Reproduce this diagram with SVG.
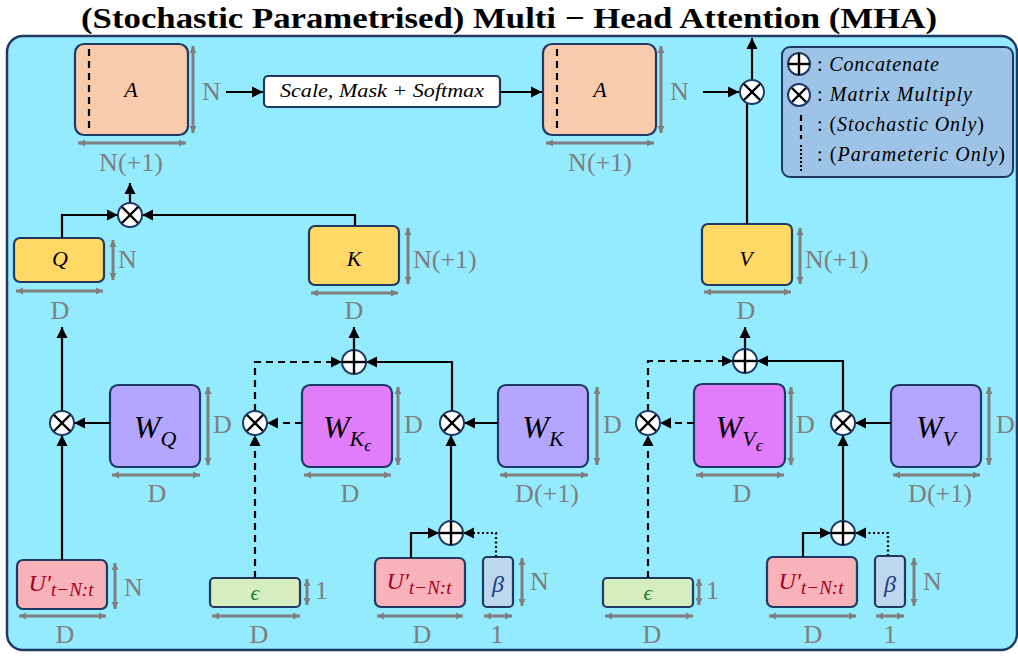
<svg xmlns="http://www.w3.org/2000/svg" width="1018" height="656" viewBox="0 0 1018 656">
<defs>
<marker id="ah" markerUnits="userSpaceOnUse" markerWidth="12" markerHeight="12" refX="11" refY="6" orient="auto"><path d="M0,0.5 L11,6 L0,11.5 z" fill="#000"/></marker>
<marker id="dh" markerUnits="userSpaceOnUse" markerWidth="8" markerHeight="8" refX="7" refY="4" orient="auto-start-reverse"><path d="M0,0.5 L7,4 L0,7.5 z" fill="#7F7F7F"/></marker>
</defs>
<style>
.panel{fill:#93EBFD;stroke:#1F3864;stroke-width:2.5}
.box{stroke:#1F3864;stroke-width:2.2}
.conn{fill:none;stroke:#000;stroke-width:2.2;marker-end:url(#ah)}
.dash{stroke-dasharray:7 5}
.dot{stroke-dasharray:2 2.5}
.dim{stroke:#7F7F7F;stroke-width:3;marker-start:url(#dh);marker-end:url(#dh)}
.dl{font-family:"Liberation Serif",serif;font-size:26px;fill:#7F7F7F}
.m{font-family:"Liberation Serif",serif;font-style:italic;fill:#000}
.op{fill:#fff;stroke:#1F3864;stroke-width:2}
.x{stroke:#000;stroke-width:2.4}
.lg{font-family:"Liberation Serif",serif;font-size:20px;fill:#000}
</style>
<text x="509" y="28" text-anchor="middle" font-family="Liberation Serif, serif" font-weight="bold" font-size="30" textLength="856" lengthAdjust="spacingAndGlyphs" fill="#000">(Stochastic Parametrised) Multi − Head Attention (MHA)</text>
<rect class="panel" x="7" y="36" width="1010" height="614" rx="16"/>

<g id="legend">
<rect x="782" y="47" width="231" height="130" rx="8" fill="#9DC3E6" stroke="#1F3864" stroke-width="2"/>
<circle class="op" cx="799" cy="64" r="11"/><line class="x" x1="788" y1="64" x2="810" y2="64"/><line class="x" x1="799" y1="53" x2="799" y2="75"/>
<text class="lg" x="817" y="71" textLength="122">: <tspan font-style="italic">Concatenate</tspan></text>
<circle class="op" cx="799" cy="95" r="11"/><line class="x" x1="792" y1="88" x2="806" y2="102"/><line class="x" x1="806" y1="88" x2="792" y2="102"/>
<text class="lg" x="817" y="101" textLength="155">: <tspan font-style="italic">Matrix Multiply</tspan></text>
<line x1="801" y1="115" x2="801" y2="139" stroke="#000" stroke-width="2.2" stroke-dasharray="6 4"/>
<text class="lg" x="817" y="131" textLength="167">: (<tspan font-style="italic">Stochastic Only</tspan>)</text>
<line x1="801" y1="145" x2="801" y2="171" stroke="#000" stroke-width="2" stroke-dasharray="2 2"/>
<text class="lg" x="817" y="161" textLength="188">: (<tspan font-style="italic">Parameteric Only</tspan>)</text>
</g>

<g id="A1">
<rect class="box" x="75" y="44" width="113" height="91" rx="9" fill="#F8CBAD"/>
<line x1="89" y1="49" x2="89" y2="131" stroke="#000" stroke-width="2.2" stroke-dasharray="7 5"/>
<text class="m" x="131" y="97" font-size="22" text-anchor="middle">A</text>
<line class="dim" x1="193" y1="46" x2="193" y2="133"/>
<text class="dl" x="202" y="100">N</text>
<line class="dim" x1="78" y1="143" x2="186" y2="143"/>
<text class="dl" x="131" y="171" text-anchor="middle">N(+1)</text>
</g>

<g id="scale">
<rect class="box" x="264" y="76" width="236" height="31" rx="4" fill="#fff"/>
<text class="m" x="382" y="97" font-size="19" text-anchor="middle" textLength="204" lengthAdjust="spacingAndGlyphs">Scale, Mask + Softmax</text>
</g>

<g id="A2">
<rect class="box" x="543" y="44" width="113" height="91" rx="9" fill="#F8CBAD"/>
<line x1="557" y1="49" x2="557" y2="131" stroke="#000" stroke-width="2.2" stroke-dasharray="7 5"/>
<text class="m" x="600" y="97" font-size="22" text-anchor="middle">A</text>
<line class="dim" x1="661" y1="46" x2="661" y2="133"/>
<text class="dl" x="670" y="100">N</text>
<line class="dim" x1="546" y1="143" x2="654" y2="143"/>
<text class="dl" x="600" y="171" text-anchor="middle">N(+1)</text>
</g>

<g id="Q">
<rect class="box" x="14" y="238" width="90" height="44" rx="6" fill="#FFD966"/>
<text class="m" x="60" y="266" font-size="22" text-anchor="middle">Q</text>
<line class="dim" x1="113" y1="240" x2="113" y2="280"/>
<text class="dl" x="118" y="268">N</text>
<line class="dim" x1="16" y1="291" x2="103" y2="291"/>
<text class="dl" x="60" y="319" text-anchor="middle">D</text>
</g>
<g id="K">
<rect class="box" x="309" y="226" width="90" height="59" rx="6" fill="#FFD966"/>
<text class="m" x="354" y="266" font-size="22" text-anchor="middle">K</text>
<line class="dim" x1="408" y1="228" x2="408" y2="284"/>
<text class="dl" x="413" y="268">N(+1)</text>
<line class="dim" x1="311" y1="293" x2="398" y2="293"/>
<text class="dl" x="354" y="319" text-anchor="middle">D</text>
</g>
<g id="V">
<rect class="box" x="702" y="224" width="90" height="61" rx="6" fill="#FFD966"/>
<text class="m" x="746" y="266" font-size="22" text-anchor="middle">V</text>
<line class="dim" x1="800" y1="228" x2="800" y2="284"/>
<text class="dl" x="805" y="268">N(+1)</text>
<line class="dim" x1="704" y1="292" x2="791" y2="292"/>
<text class="dl" x="746" y="319" text-anchor="middle">D</text>
</g>

<g id="WQ">
<rect class="box" x="110" y="385" width="90" height="82" rx="8" fill="#B4A6FE"/>
<text class="m" x="155" y="438" font-size="32" text-anchor="middle">W<tspan font-size="22" dy="8">Q</tspan></text>
<line class="dim" x1="208" y1="387" x2="208" y2="465"/>
<text class="dl" x="213" y="433">D</text>
<line class="dim" x1="112" y1="475" x2="200" y2="475"/>
<text class="dl" x="157" y="502" text-anchor="middle">D</text>
</g>
<g id="WKe">
<rect class="box" x="302" y="385" width="90" height="82" rx="8" fill="#E17CFB"/>
<text class="m" x="347" y="438" font-size="32" text-anchor="middle">W<tspan font-size="22" dy="8">K</tspan><tspan font-size="17" dy="5">ϵ</tspan></text>
<line class="dim" x1="398" y1="387" x2="398" y2="465"/>
<text class="dl" x="404" y="433">D</text>
<line class="dim" x1="304" y1="475" x2="391" y2="475"/>
<text class="dl" x="350" y="502" text-anchor="middle">D</text>
</g>
<g id="WK">
<rect class="box" x="498" y="385" width="90" height="82" rx="8" fill="#B4A6FE"/>
<text class="m" x="543" y="438" font-size="32" text-anchor="middle">W<tspan font-size="22" dy="8">K</tspan></text>
<line class="dim" x1="597" y1="387" x2="597" y2="465"/>
<text class="dl" x="603" y="433">D</text>
<line class="dim" x1="500" y1="475" x2="588" y2="475"/>
<text class="dl" x="547" y="502" text-anchor="middle">D(+1)</text>
</g>
<g id="WVe">
<rect class="box" x="694" y="384" width="91" height="83" rx="8" fill="#E17CFB"/>
<text class="m" x="739" y="438" font-size="32" text-anchor="middle">W<tspan font-size="22" dy="8">V</tspan><tspan font-size="17" dy="5">ϵ</tspan></text>
<line class="dim" x1="791" y1="387" x2="791" y2="465"/>
<text class="dl" x="796" y="433">D</text>
<line class="dim" x1="696" y1="475" x2="784" y2="475"/>
<text class="dl" x="742" y="502" text-anchor="middle">D</text>
</g>
<g id="WV">
<rect class="box" x="891" y="385" width="90" height="82" rx="8" fill="#B4A6FE"/>
<text class="m" x="936" y="438" font-size="32" text-anchor="middle">W<tspan font-size="22" dy="8">V</tspan></text>
<line class="dim" x1="989" y1="387" x2="989" y2="465"/>
<text class="dl" x="996" y="433">D</text>
<line class="dim" x1="893" y1="475" x2="980" y2="475"/>
<text class="dl" x="940" y="502" text-anchor="middle">D(+1)</text>
</g>

<g id="U1">
<rect class="box" x="17" y="560" width="90" height="49" rx="6" fill="#F7B2BA"/>
<text class="m" x="61" y="591" font-size="24" text-anchor="middle" style="fill:#A50021">U′<tspan font-size="19" dy="5">t−N:t</tspan></text>
<line class="dim" x1="115" y1="563" x2="115" y2="609"/>
<text class="dl" x="124" y="596">N</text>
<line class="dim" x1="19" y1="616" x2="106" y2="616"/>
<text class="dl" x="65" y="643" text-anchor="middle">D</text>
</g>
<g id="E1">
<rect class="box" x="210" y="578" width="90" height="29" rx="4" fill="#D6EDC0"/>
<text class="m" x="255" y="600" font-size="22" text-anchor="middle" style="fill:#1E7B34">ϵ</text>
<line class="dim" x1="307" y1="579" x2="307" y2="605"/>
<text class="dl" x="315" y="599">1</text>
<line class="dim" x1="212" y1="616" x2="300" y2="616"/>
<text class="dl" x="259" y="643" text-anchor="middle">D</text>
</g>
<g id="U2">
<rect class="box" x="375" y="558" width="90" height="49" rx="6" fill="#F7B2BA"/>
<text class="m" x="419" y="589" font-size="24" text-anchor="middle" style="fill:#A50021">U′<tspan font-size="19" dy="5">t−N:t</tspan></text>
<line class="dim" x1="377" y1="616" x2="463" y2="616"/>
<text class="dl" x="422" y="643" text-anchor="middle">D</text>
</g>
<g id="B1">
<rect class="box" x="483" y="557" width="30" height="50" rx="4" fill="#BDD7EE"/>
<text class="m" x="498" y="592" font-size="24" text-anchor="middle" style="fill:#1F3C88">β</text>
<line class="dim" x1="522" y1="558" x2="522" y2="606"/>
<text class="dl" x="530" y="590">N</text>
<line class="dim" x1="484" y1="616" x2="512" y2="616"/>
<text class="dl" x="497" y="643" text-anchor="middle">1</text>
</g>
<g id="E2">
<rect class="box" x="603" y="578" width="90" height="29" rx="4" fill="#D6EDC0"/>
<text class="m" x="648" y="600" font-size="22" text-anchor="middle" style="fill:#1E7B34">ϵ</text>
<line class="dim" x1="699" y1="579" x2="699" y2="605"/>
<text class="dl" x="706" y="599">1</text>
<line class="dim" x1="605" y1="616" x2="693" y2="616"/>
<text class="dl" x="652" y="643" text-anchor="middle">D</text>
</g>
<g id="U3">
<rect class="box" x="767" y="557" width="90" height="50" rx="6" fill="#F7B2BA"/>
<text class="m" x="811" y="589" font-size="24" text-anchor="middle" style="fill:#A50021">U′<tspan font-size="19" dy="5">t−N:t</tspan></text>
<line class="dim" x1="769" y1="616" x2="856" y2="616"/>
<text class="dl" x="813" y="643" text-anchor="middle">D</text>
</g>
<g id="B2">
<rect class="box" x="875" y="556" width="30" height="51" rx="4" fill="#BDD7EE"/>
<text class="m" x="890" y="592" font-size="24" text-anchor="middle" style="fill:#1F3C88">β</text>
<line class="dim" x1="914" y1="558" x2="914" y2="606"/>
<text class="dl" x="923" y="590">N</text>
<line class="dim" x1="876" y1="616" x2="904" y2="616"/>
<text class="dl" x="890" y="643" text-anchor="middle">1</text>
</g>

<g id="connectors">
<path class="conn" d="M226,92 H263"/>
<path class="conn" d="M500,92 H542"/>
<path class="conn" d="M703,92 H739"/>
<path d="M747,224 V103" fill="none" stroke="#000" stroke-width="2.2"/>
<path class="conn" d="M752,80 V38"/>
<path class="conn" d="M130,203 V183"/>
<path class="conn" d="M62,238 V215 H118"/>
<path class="conn" d="M355,226 V215 H142"/>
<path class="conn" d="M62,411 V327"/>
<path class="conn" d="M354,350 V327"/>
<path class="conn" d="M745,348 V327"/>
<path class="conn" d="M110,423 H74"/>
<path class="conn" d="M62,560 V435"/>
<path class="conn" d="M498,423 H464"/>
<path class="conn" d="M452,411 V362 H366"/>
<path class="conn" d="M451,521 V435"/>
<path class="conn" d="M411,558 V533 H439"/>
<path class="conn" d="M891,423 H855"/>
<path class="conn" d="M843,411 V361 H757"/>
<path class="conn" d="M843,521 V435"/>
<path class="conn" d="M803,557 V533 H831"/>
<path class="conn dash" d="M302,423 H267"/>
<path class="conn dash" d="M255,578 V435"/>
<path class="conn dash" d="M255,411 V362 H342"/>
<path class="conn dash" d="M694,423 H660"/>
<path class="conn dash" d="M648,578 V435"/>
<path class="conn dash" d="M648,411 V361 H733"/>
<path class="conn dot" d="M496,557 V533 H463"/>
<path class="conn dot" d="M888,556 V533 H855"/>
</g>

<g id="ops">
<g id="mulTop"><circle class="op" cx="752" cy="92" r="12"/><line class="x" x1="744" y1="84" x2="760" y2="100"/><line class="x" x1="760" y1="84" x2="744" y2="100"/></g>
<g id="mulQK"><circle class="op" cx="130" cy="215" r="12"/><line class="x" x1="122" y1="207" x2="138" y2="223"/><line class="x" x1="138" y1="207" x2="122" y2="223"/></g>
<g id="catK"><circle class="op" cx="354" cy="362" r="12"/><line class="x" x1="342" y1="362" x2="366" y2="362"/><line class="x" x1="354" y1="350" x2="354" y2="374"/></g>
<g id="catV"><circle class="op" cx="745" cy="361" r="12"/><line class="x" x1="733" y1="361" x2="757" y2="361"/><line class="x" x1="745" y1="349" x2="745" y2="373"/></g>
<g id="mulQ"><circle class="op" cx="62" cy="423" r="12"/><line class="x" x1="54" y1="415" x2="70" y2="431"/><line class="x" x1="70" y1="415" x2="54" y2="431"/></g>
<g id="mulKe"><circle class="op" cx="255" cy="423" r="12"/><line class="x" x1="247" y1="415" x2="263" y2="431"/><line class="x" x1="263" y1="415" x2="247" y2="431"/></g>
<g id="mulK"><circle class="op" cx="452" cy="423" r="12"/><line class="x" x1="444" y1="415" x2="460" y2="431"/><line class="x" x1="460" y1="415" x2="444" y2="431"/></g>
<g id="mulVe"><circle class="op" cx="648" cy="423" r="12"/><line class="x" x1="640" y1="415" x2="656" y2="431"/><line class="x" x1="656" y1="415" x2="640" y2="431"/></g>
<g id="mulV"><circle class="op" cx="843" cy="423" r="12"/><line class="x" x1="835" y1="415" x2="851" y2="431"/><line class="x" x1="851" y1="415" x2="835" y2="431"/></g>
<g id="catU2"><circle class="op" cx="451" cy="533" r="12"/><line class="x" x1="439" y1="533" x2="463" y2="533"/><line class="x" x1="451" y1="521" x2="451" y2="545"/></g>
<g id="catU3"><circle class="op" cx="843" cy="533" r="12"/><line class="x" x1="831" y1="533" x2="855" y2="533"/><line class="x" x1="843" y1="521" x2="843" y2="545"/></g>
</g>
</svg>
